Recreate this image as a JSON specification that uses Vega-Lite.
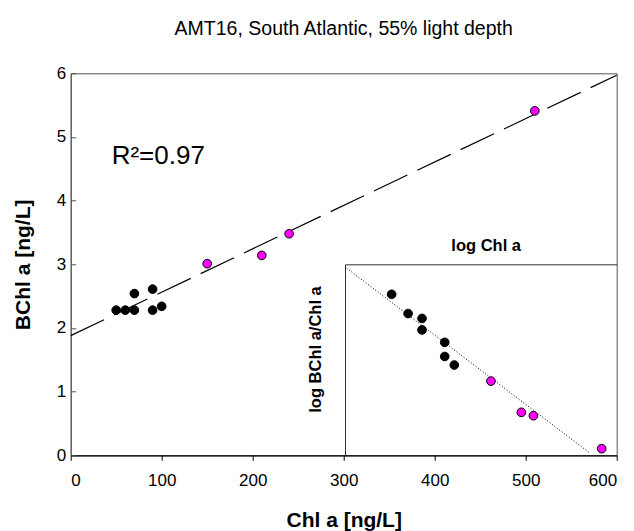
{
  "$schema": "https://vega.github.io/schema/vega-lite/v6.json",
  "width": 546,
  "height": 382,
  "autosize": {"type": "none"},
  "padding": {"left": 70.7, "top": 73.3, "right": 17.3, "bottom": 75.7},
  "background": "white",
  "config": {
    "font": "Liberation Sans",
    "view": {"stroke": "#555", "strokeWidth": 1}
  },
  "title": {
    "text": "AMT16, South Atlantic, 55% light depth",
    "fontSize": 19.5,
    "fontWeight": "normal",
    "color": "#000",
    "baseline": "alphabetic",
    "anchor": "middle",
    "offset": 10
  },
  "datasets": {
    "main": [
      {"chl": 50, "bchl": 2.28, "group": "black"},
      {"chl": 60, "bchl": 2.28, "group": "black"},
      {"chl": 70, "bchl": 2.28, "group": "black"},
      {"chl": 70, "bchl": 2.54, "group": "black"},
      {"chl": 90, "bchl": 2.61, "group": "black"},
      {"chl": 90, "bchl": 2.28, "group": "black"},
      {"chl": 100, "bchl": 2.34, "group": "black"},
      {"chl": 150, "bchl": 3.01, "group": "pink"},
      {"chl": 210, "bchl": 3.14, "group": "pink"},
      {"chl": 240, "bchl": 3.48, "group": "pink"},
      {"chl": 510, "bchl": 5.41, "group": "pink"}
    ],
    "fit": [
      {"chl": 0, "bchl": 1.88},
      {"chl": 600, "bchl": 5.97}
    ],
    "label": [
      {"chl": 45, "bchl": 4.58, "text": "R²=0.97"}
    ],
    "inset": [
      {"logchl": 1.699, "logratio": -1.341, "group": "black"},
      {"logchl": 1.778, "logratio": -1.420, "group": "black"},
      {"logchl": 1.845, "logratio": -1.487, "group": "black"},
      {"logchl": 1.845, "logratio": -1.440, "group": "black"},
      {"logchl": 1.954, "logratio": -1.538, "group": "black"},
      {"logchl": 1.954, "logratio": -1.596, "group": "black"},
      {"logchl": 2.0, "logratio": -1.631, "group": "black"},
      {"logchl": 2.176, "logratio": -1.697, "group": "pink"},
      {"logchl": 2.322, "logratio": -1.825, "group": "pink"},
      {"logchl": 2.380, "logratio": -1.839, "group": "pink"},
      {"logchl": 2.708, "logratio": -1.974, "group": "pink"}
    ],
    "insetfit": [
      {"logchl": 1.483, "logratio": -1.234},
      {"logchl": 2.646, "logratio": -1.989}
    ]
  },
  "layer": [
    {
      "layer": [
        {
          "data": {"name": "fit"},
          "mark": {"type": "line", "stroke": "#000", "strokeWidth": 1.2, "strokeDash": [37, 11]},
          "encoding": {
            "x": {
              "field": "chl", "type": "quantitative",
              "scale": {"domain": [0, 600], "nice": false, "zero": false},
              "axis": {
                "title": "Chl a [ng/L]",
                "values": [0, 100, 200, 300, 400, 500, 600],
                "format": "d",
                "grid": false,
                "tickSize": 5, "tickColor": "#000", "domainColor": "#000", "domainWidth": 1.2,
                "labelFontSize": 17, "labelColor": "#000", "labelPadding": 12,
                "titleFontSize": 21, "titleFontWeight": "bold", "titleColor": "#000",
                "titleBaseline": "alphabetic", "titlePadding": 38
              }
            },
            "y": {
              "field": "bchl", "type": "quantitative",
              "scale": {"domain": [0, 6], "nice": false, "zero": false},
              "axis": {
                "title": "BChl a [ng/L]",
                "values": [0, 1, 2, 3, 4, 5, 6],
                "format": "d",
                "grid": false,
                "tickSize": -5, "tickColor": "#555", "domainColor": "#555",
                "labelFontSize": 17, "labelColor": "#000", "labelPadding": 10,
                "titleFontSize": 21, "titleFontWeight": "bold", "titleColor": "#000",
                "titlePadding": 23
              }
            }
          }
        },
        {
          "data": {"name": "main"},
          "mark": {"type": "point", "filled": true, "stroke": "#000", "strokeWidth": 1, "size": 75, "opacity": 1},
          "encoding": {
            "x": {"field": "chl", "type": "quantitative"},
            "y": {"field": "bchl", "type": "quantitative"},
            "fill": {
              "field": "group", "type": "nominal",
              "scale": {"domain": ["black", "pink"], "range": ["#000000", "#FF00FF"]},
              "legend": null
            }
          }
        },
        {
          "data": {"name": "label"},
          "mark": {"type": "text", "fontSize": 26, "align": "left", "baseline": "alphabetic", "color": "#000"},
          "encoding": {
            "x": {"field": "chl", "type": "quantitative"},
            "y": {"field": "bchl", "type": "quantitative"},
            "text": {"field": "text", "type": "nominal"}
          }
        }
      ]
    },
    {
      "layer": [
        {
          "data": {"name": "insetfit"},
          "mark": {"type": "line", "stroke": "#000", "strokeWidth": 1, "strokeDash": [1, 2]},
          "encoding": {
            "x": {
              "field": "logchl", "type": "quantitative",
              "scale": {"domain": [1.475, 2.78], "range": [274.3, 546], "nice": false, "zero": false},
              "axis": {
                "orient": "top", "offset": -191,
                "ticks": false, "labels": false, "grid": false,
                "domainColor": "#333",
                "title": "log Chl a",
                "titleFontSize": 16.5, "titleFontWeight": "bold", "titleColor": "#000",
                "titleBaseline": "alphabetic", "titlePadding": 14, "titleX": 415
              }
            },
            "y": {
              "field": "logratio", "type": "quantitative",
              "scale": {"domain": [-2.0, -1.218], "range": [381.7, 191], "nice": false, "zero": false},
              "axis": {
                "orient": "left", "offset": -274.3,
                "ticks": false, "labels": false, "grid": false,
                "domainColor": "#333",
                "title": "log BChl a/Chl a",
                "titleFontSize": 16.5, "titleFontWeight": "bold", "titleColor": "#000",
                "titlePadding": 22, "titleY": 275.7
              }
            }
          }
        },
        {
          "data": {"name": "inset"},
          "mark": {"type": "point", "filled": true, "stroke": "#000", "strokeWidth": 1, "size": 75, "opacity": 1},
          "encoding": {
            "x": {"field": "logchl", "type": "quantitative"},
            "y": {"field": "logratio", "type": "quantitative"},
            "fill": {
              "field": "group", "type": "nominal",
              "scale": {"domain": ["black", "pink"], "range": ["#000000", "#FF00FF"]},
              "legend": null
            }
          }
        }
      ]
    }
  ],
  "resolve": {"scale": {"x": "independent", "y": "independent"}}
}
